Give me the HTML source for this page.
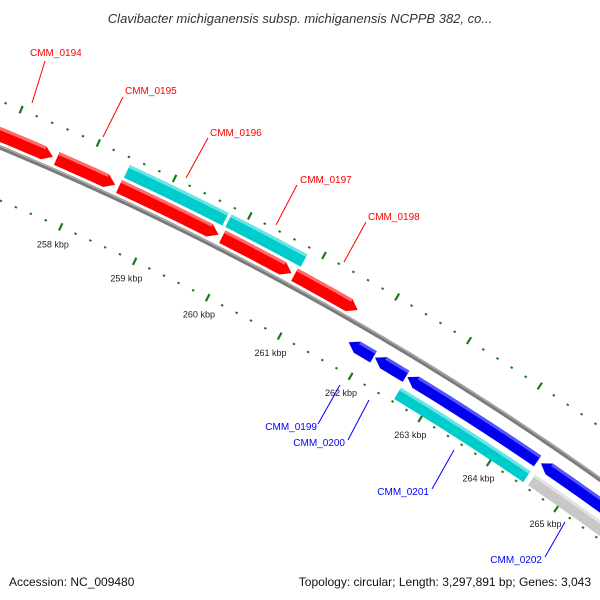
<!DOCTYPE html>
<html><head><meta charset="utf-8"><style>
html,body{margin:0;padding:0;background:#fff;overflow:hidden;}
svg{display:block;font-family:"Liberation Sans","DejaVu Sans",sans-serif;}
</style></head><body>
<svg id="map" width="600" height="600" viewBox="0 0 600 600" xmlns="http://www.w3.org/2000/svg">
<rect width="600" height="600" fill="#fff"/>
<text x="300" y="23" text-anchor="middle" font-size="13" font-style="italic" fill="#333">Clavibacter michiganensis subsp. michiganensis NCPPB 382, co...</text>
<g id="ticks"></g>
<g id="backbone"></g>
<g id="genes"></g>
<g id="labels"></g>
<text x="9" y="586" font-size="12" fill="#111">Accession: NC_009480</text>
<text x="591" y="586" text-anchor="end" font-size="12" fill="#111">Topology: circular; Length: 3,297,891 bp; Genes: 3,043</text>
</svg>
<script>
// data (kbp)
const fwdRow1Starts = [250.0, 257.62, 258.44, 259.82, 260.80];
const fwdRow1Ends   = [257.57, 258.39, 259.77, 260.76, 261.67];
const fwdRow2Starts = [258.45, 259.80];
const fwdRow2Ends   = [259.76, 260.82];
const revRow1Starts = [261.77, 262.14, 262.60, 264.53];
const revRow1Ends   = [262.12, 262.58, 264.48, 270.0];
const revRow2Starts = [262.60, 264.55];
const revRow2Ends   = [264.48, 270.0];
const revRow2Colors = ["#00cccc", "#c8c8c8"];
const fwdRow2Colors = ["#00cccc", "#00cccc"];
const tickLabels = [257,258,259,260,261,262,263,264,265];

const CX=-1168, CY=2966, DEG0=24.16, DPK=1.557;
const NS="http://www.w3.org/2000/svg";
function ang(p){return (DEG0+(p-258)*DPK)*Math.PI/180;}
function pt(p,r){const a=ang(p);return [CX+r*Math.sin(a), CY-r*Math.cos(a)];}
function mk(tag,attrs,parent){const e=document.createElementNS(NS,tag);for(const k in attrs)e.setAttribute(k,attrs[k]);parent.appendChild(e);return e;}
function arc(s,e,r){const out=[];const n=Math.max(2,Math.ceil((e-s)/0.1));for(let i=0;i<=n;i++)out.push(pt(s+(e-s)*i/n,r));return out;}

const tg=document.getElementById('ticks');
for(let i=2;i<=53;i++){
  const p=256+i*0.2;
  const major=Math.abs(p-Math.round(p))<1e-6;
  [3094,3002].forEach(r=>{
    const a=pt(p,r-(major?4:1)), b=pt(p,r+(major?4:1));
    const l=mk('line',{x1:a[0],y1:a[1],x2:b[0],y2:b[1],stroke:'#1a7a1a','stroke-width':major?2.2:2.4},tg);
    
    
  });
}
tickLabels.forEach(k=>{
  const q=pt(k,2983);
  const t=mk('text',{x:q[0],y:q[1]+3,'text-anchor':'middle','font-size':9,fill:'#222'},tg);
  t.textContent=k+' kbp';
  
  
});

const bb=document.getElementById('backbone');
const bl=mk('polyline',{points:arc(250,272,3051).map(v=>v.join(',')).join(' '),fill:'none',stroke:'#7a7a7a','stroke-width':4.5},bb);


const bl2=mk('polyline',{points:arc(250,272,3052.3).map(v=>v.join(',')).join(' '),fill:'none',stroke:'#aaa','stroke-width':1.5},bb);



const gg=document.getElementById('genes');
function gene(s,e,r1,r2,color,light,dir,arrow,name){
  const ah=0.12;let pts;
  if(arrow&&dir>0){pts=[...arc(s,e-ah,r2),pt(e,(r1+r2)/2),...arc(s,e-ah,r1).reverse()];}
  else if(arrow&&dir<0){pts=[pt(s,(r1+r2)/2),...arc(s+ah,e,r2),...arc(s+ah,e,r1).reverse()];}
  else{pts=[...arc(s,e,r2),...arc(s,e,r1).reverse()];}
  const g=mk('polygon',{points:pts.map(v=>v.join(',')).join(' '),fill:color},gg);
  
  
  const hs=arrow&&dir<0?s+ah:s, he=arrow&&dir>0?e-ah:e;
  const h=mk('polygon',{points:[...arc(hs,he,r2),...arc(hs,he,r2-3).reverse()].map(v=>v.join(',')).join(' '),fill:light},gg);
  
  
}
fwdRow1Starts.forEach((s,i)=>gene(s,fwdRow1Ends[i],3056,3070,'#ff0000','#ff6a6a',1,true,'forward-gene'));
fwdRow2Starts.forEach((s,i)=>gene(s,fwdRow2Ends[i],3073,3087,fwdRow2Colors[i],'#66e6e6',1,false,'forward-gene-row2'));
revRow1Starts.forEach((s,i)=>gene(s,revRow1Ends[i],3024,3037,'#0000ee','#5555ff',-1,true,'reverse-gene'));
revRow2Starts.forEach((s,i)=>gene(s,revRow2Ends[i],3005,3018,revRow2Colors[i],i==0?'#66e6e6':'#e4e4e4',-1,false,'reverse-gene-row2'));

const lg=document.getElementById('labels');
const labs=[
 ['CMM_0194',30,56,'start',45,61,32,103,'red'],
 ['CMM_0195',125,94,'start',123,97,103,137,'red'],
 ['CMM_0196',210,136,'start',208,138,186,178,'red'],
 ['CMM_0197',300,183,'start',297,185,276,225,'red'],
 ['CMM_0198',368,220,'start',366,222,344,262,'red'],
 ['CMM_0199',317,430,'end',318,424,340,385,'blue'],
 ['CMM_0200',345,446,'end',348,440,369,400,'blue'],
 ['CMM_0201',429,495,'end',432,489,454,450,'blue'],
 ['CMM_0202',542,563,'end',545,557,565,522,'blue']];
labs.forEach(L=>{
  const c=L[8]=='red'?'#ff0000':'#0000ff';
  const ln=mk('line',{x1:L[4],y1:L[5],x2:L[6],y2:L[7],stroke:c,'stroke-width':1},lg);
  
  
  const t=mk('text',{x:L[1],y:L[2],'text-anchor':L[3],'font-size':10,fill:c},lg);
  t.textContent=L[0];
  
  
});
</script>
</body></html>
